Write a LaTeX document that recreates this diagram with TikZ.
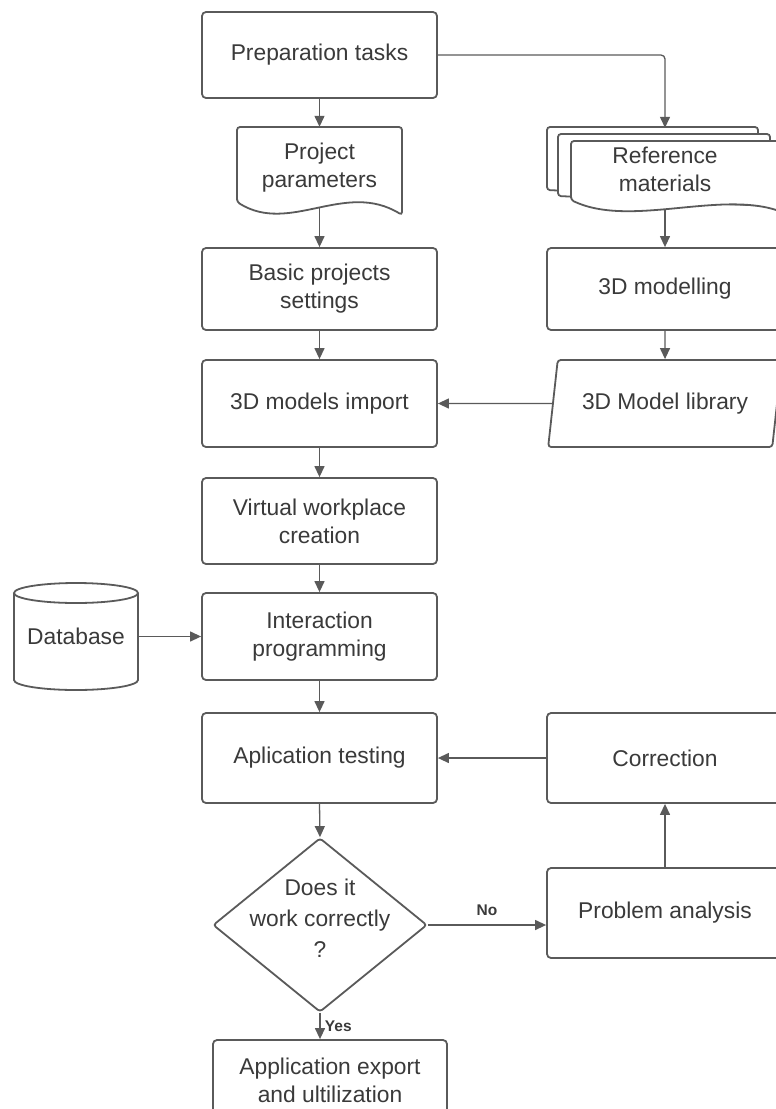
\documentclass[tikz,border=0pt]{standalone}
\usepackage{fontspec}
\setmainfont{Liberation Sans}
\usepackage{tikz}
\usetikzlibrary{arrows.meta,positioning,calc,shapes.geometric}

\definecolor{linegray}{HTML}{5A5A5A}
\definecolor{textgray}{HTML}{3A3A3A}

\tikzset{
  box/.style={draw=linegray,line width=1.8pt,rounded corners=4pt,fill=white,
    minimum width=235pt,minimum height=86pt,align=center,text=textgray,
    font=\fontsize{22.8}{28}\selectfont},
  plain/.style={inner sep=0pt,align=center,text=textgray,
    font=\fontsize{22.8}{28}\selectfont},
  outline/.style={draw=linegray,line width=1.8pt,fill=white,rounded corners=3pt},
  arr/.style={draw=linegray,line width=1.3pt,-{Triangle[length=11pt,width=10pt]}},
  lbl/.style={text=textgray,font=\fontsize{15.5}{18}\selectfont\bfseries}
}

\begin{document}
\begin{tikzpicture}[x=1pt,y=-1pt]
\useasboundingbox (0,0) rectangle (776,1109);
\clip (0,0) rectangle (776,1109);

% left column
\node[box] (prep) at (319.5,55) {Preparation tasks};

\draw[outline] (237,202) -- (237,127) -- (402,127) -- (402,215)
  .. controls (345,180) and (290,235) .. (237,202) -- cycle;
\node[plain,minimum width=165pt,minimum height=81pt] (params) at (319.5,167.5) {Project\\parameters};

\node[box,minimum height=82pt] (basic) at (319.5,289) {Basic projects\\settings};
\node[box,minimum height=87pt] (import) at (319.5,403.5) {3D models import};
\node[box] (virtual) at (319.5,521) {Virtual workplace\\creation};
\node[box,minimum height=87pt] (interact) at (319.5,636.5) {Interaction\\programming};
\node[box,minimum height=90pt] (testing) at (319.5,758) {Aplication testing};

\node[draw=linegray,line width=1.8pt,diamond,rounded corners=3pt,inner sep=0pt,
  minimum width=214pt,minimum height=174pt,text=textgray,
  font=\fontsize{22.8}{31}\selectfont] (check) at (320,925)
  {\makebox[0pt]{\smash{\begin{tabular}{@{}c@{}}Does it\\work correctly\\?\end{tabular}}}};

\node[box,minimum width=234pt,minimum height=80pt] (export) at (330,1080) {Application export\\and ultilization};

% database
\draw[outline,rounded corners=0pt] (14,593) -- (14,680)
  arc[start angle=180,end angle=0,x radius=62,y radius=10] -- (138,593);
\draw[outline,rounded corners=0pt] (76,593) ellipse[x radius=62,y radius=10];
\node[plain,minimum width=124pt,minimum height=107pt] (db) at (76,636.5) {Database};

% right column
\draw[outline] (547,190) -- (547,127) -- (758,127) -- (758,200) -- cycle;
\draw[outline] (558,196) -- (558,134) -- (770,134) -- (770,206) -- cycle;
\draw[outline] (571,200) -- (571,141) -- (782,141) -- (782,212)
  .. controls (720,190) and (630,228) .. (571,200) -- cycle;
\node[plain,minimum width=211pt,minimum height=82pt] (refmat) at (665,169) {Reference\\materials};

\node[box,minimum width=236pt,minimum height=82pt] (model) at (665,289) {3D modelling};
\node[draw=linegray,line width=1.8pt,trapezium,trapezium stretches=true,
  trapezium left angle=74.6,trapezium right angle=105.4,rounded corners=3pt,
  minimum width=234pt,minimum height=87pt,text=textgray,
  font=\fontsize{22.8}{28}\selectfont] (library) at (665,403.5) {3D Model library};

\node[box,minimum width=236pt,minimum height=90pt] (correct) at (665,758) {Correction};
\node[box,minimum width=236pt,minimum height=90pt] (analysis) at (665,913) {Problem analysis};

% connectors
\draw[arr] (prep) -- (params);
\draw[arr,rounded corners=4pt] (prep.east) -| (refmat.north);
\draw[arr] (params) -- (basic);
\draw[arr] (refmat) -- (model);
\draw[arr] (basic) -- (import);
\draw[arr] (model) -- (library);
\draw[arr] (library.west) -- (import.east);
\draw[arr] (import) -- (virtual);
\draw[arr] (virtual) -- (interact);
\draw[arr] (db.east) -- (interact.west);
\draw[arr] (interact) -- (testing);
\draw[arr] (correct.west) -- (testing.east);
\draw[arr] (testing.south) -- (check.north);
\draw[arr] (check.east) -- (check.east -| analysis.west) node[lbl,midway,above=5pt] {No};
\draw[arr] (analysis) -- (correct);
\draw[arr] (check.south) -- (check.south |- export.north) node[lbl,midway,right=1pt] {Yes};
\end{tikzpicture}
\end{document}
